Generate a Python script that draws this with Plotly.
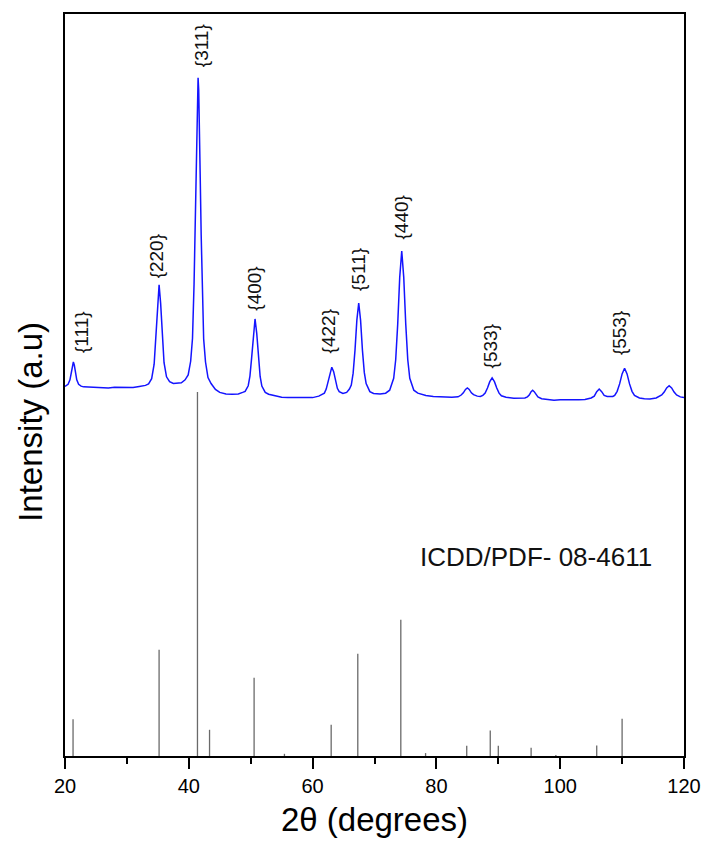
import plotly.graph_objects as go

# Measured XRD pattern (2-theta in degrees, intensity in a.u.)
two_theta = [
    20.0, 20.5, 20.8, 21.0, 21.2, 21.35, 21.5, 21.7, 21.9, 22.2,
    22.6, 23.0, 24.0, 25.0, 26.0, 27.0, 28.0, 29.0, 30.0, 31.0,
    32.0, 33.0, 33.5, 34.0, 34.4, 34.7, 34.95, 35.2, 35.45, 35.7,
    36.0, 36.4, 36.9, 37.5, 38.2, 38.8, 39.4, 39.9, 40.3, 40.6,
    40.85, 41.0, 41.15, 41.3, 41.4, 41.5, 41.6, 41.7, 41.85, 42.0,
    42.15, 42.4, 42.7, 43.1, 43.6, 44.3, 45.0, 46.0, 47.0, 48.0,
    48.7, 49.1, 49.6, 49.875, 50.15, 50.425, 50.7, 50.975, 51.25, 51.525,
    51.8, 52.35, 52.9, 54.0, 55.0, 56.0, 57.0, 58.0, 59.0, 60.0,
    61.0, 61.9, 62.2, 62.5, 62.8, 63.1, 63.4, 63.7, 64.0, 64.3,
    64.9, 65.5, 65.95, 66.25, 66.55, 66.85, 67.15, 67.45, 67.75, 68.05,
    68.35, 68.65, 69.25, 69.85, 70.9, 71.8, 72.45, 73.1, 73.425, 73.75,
    74.075, 74.4, 74.725, 75.05, 75.375, 75.7, 76.35, 77.0, 78.3, 79.5,
    80.5, 81.5, 82.5, 83.5, 84.0, 84.35, 84.7, 85.0, 85.3, 85.65,
    86.0, 86.6, 87.1, 87.5, 87.875, 88.25, 88.625, 89.0, 89.375, 89.75,
    90.125, 90.5, 91.25, 92.5, 93.5, 94.3, 94.7, 95.0, 95.3, 95.55,
    95.8, 96.1, 96.4, 97.0, 98.0, 99.0, 100.0, 101.0, 102.0, 103.0,
    104.0, 105.0, 105.5, 105.9, 106.3, 106.7, 107.1, 107.6, 108.5, 108.8,
    109.2, 109.6, 110.0, 110.4, 110.8, 111.2, 111.6, 112.0, 112.8, 113.6,
    114.5, 115.5, 116.4, 116.8, 117.2, 117.6, 118.0, 118.4, 118.8, 119.4,
    120.0,
]
intensity = [
    49.8, 50.1, 50.7, 51.6, 52.7, 53.1, 52.7, 51.6, 50.7, 50.1,
    49.85, 49.75, 49.7, 49.6, 49.65, 49.6, 49.7, 49.65, 49.6, 49.65,
    49.8, 49.95, 50.15, 50.85, 52.8, 56.55, 61.0, 63.5, 61.0, 56.6,
    53.0, 51.1, 50.45, 50.2, 50.2, 50.3, 50.7, 51.35, 53.2, 56.3,
    63.6, 70.2, 77.8, 86.1, 89.8, 91.4, 89.8, 86.1, 77.8, 70.2,
    63.5, 56.2, 53.1, 51.0, 50.2, 49.4, 49.0, 48.8, 48.75, 48.8,
    49.0, 49.15, 49.9, 51.2, 53.65, 56.95, 58.9, 56.95, 53.65, 51.15,
    49.85, 49.0, 48.75, 48.5, 48.35, 48.3, 48.3, 48.25, 48.3, 48.3,
    48.5, 48.9, 49.45, 50.45, 51.75, 52.4, 51.8, 50.5, 49.55, 49.1,
    48.85, 49.0, 49.45, 50.0, 51.6, 54.7, 58.75, 61.05, 58.75, 54.7,
    51.7, 50.2, 49.1, 48.85, 48.8, 48.9, 49.3, 50.9, 53.4, 58.2,
    64.5, 68.05, 64.5, 58.2, 53.4, 50.9, 49.3, 48.9, 48.6, 48.45,
    48.4, 48.35, 48.35, 48.4, 48.65, 48.95, 49.4, 49.6, 49.4, 48.95,
    48.7, 48.5, 48.45, 48.6, 48.9, 49.6, 50.45, 50.95, 50.45, 49.6,
    48.9, 48.55, 48.35, 48.2, 48.2, 48.25, 48.4, 48.65, 49.1, 49.3,
    49.1, 48.65, 48.4, 48.15, 48.0, 47.95, 48.0, 47.95, 48.0, 48.0,
    48.05, 48.25, 48.5, 49.1, 49.45, 49.1, 48.6, 48.45, 48.45, 48.6,
    49.15, 50.15, 51.5, 52.25, 51.5, 50.15, 49.15, 48.6, 48.25, 48.15,
    48.1, 48.25, 48.65, 49.05, 49.6, 49.9, 49.6, 49.05, 48.65, 48.4,
    48.3,
]

# ICDD/PDF 08-4611 reference lines (2-theta, relative intensity %)
ref_two_theta = [21.3, 35.2, 41.4, 43.35, 50.55, 55.45, 63.0, 67.3, 74.25,
                 78.25, 84.9, 88.7, 90.0, 95.3, 99.3, 105.9, 110.0]
ref_rel_int = [10.1, 29.2, 100.0, 7.2, 21.5, 0.6, 8.6, 28.1, 37.4,
               0.8, 2.8, 7.0, 2.8, 2.3, 0.3, 2.9, 10.2]

# Miller index labels: 2-theta position and bottom of the label in a.u.
hkl_labels = ["{111}", "{220}", "{311}", "{400}", "{422}", "{511}", "{440}", "{533}", "{553}"]
hkl_x = [22.7, 34.7, 42.1, 50.6, 62.5, 67.4, 74.4, 88.7, 109.55]
hkl_y = [54.0, 64.1, 92.6, 59.8, 54.0, 62.4, 69.3, 52.0, 53.8]

ref_label = "ICDD/PDF- 08-4611"

FONT = "Liberation Sans, Arial, sans-serif"

# stick segments for the reference pattern
stick_x, stick_y = [], []
for t, h in zip(ref_two_theta, ref_rel_int):
    stick_x += [t, t, None]
    stick_y += [0, h, None]

fig = go.Figure()
fig.add_trace(go.Scatter(
    x=stick_x, y=stick_y, mode="lines", yaxis="y2",
    line=dict(color="#6a6a6a", width=1.3), hoverinfo="skip", showlegend=False,
))
fig.add_trace(go.Scatter(
    x=two_theta, y=intensity, mode="lines",
    line=dict(color="#1414ff", width=1.5), showlegend=False,
))

annotations = []
for lab, x, y in zip(hkl_labels, hkl_x, hkl_y):
    annotations.append(dict(
        x=x, y=y, xref="x", yref="y", text=lab, showarrow=False,
        textangle=-90, xanchor="center", yanchor="bottom",
        font=dict(family=FONT, size=19, color="#111"),
    ))
annotations.append(dict(
    x=96.1, y=26.8, xref="x", yref="y", text=ref_label, showarrow=False,
    xanchor="center", yanchor="middle",
    font=dict(family=FONT, size=26, color="#111"),
))
annotations.append(dict(
    x=-0.057, y=0.45, xref="paper", yref="paper", text="Intensity (a.u)",
    showarrow=False, textangle=-90, xanchor="center", yanchor="middle",
    font=dict(family=FONT, size=33, color="#000"),
))

fig.update_layout(
    width=702, height=843,
    margin=dict(l=65, r=18, t=14, b=87),
    paper_bgcolor="white", plot_bgcolor="white",
    annotations=annotations,
    xaxis=dict(
        range=[20, 120], tickmode="linear", tick0=20, dtick=20,
        ticks="outside", ticklen=11, tickwidth=2, tickcolor="#000",
        minor=dict(ticks="outside", ticklen=6, tickwidth=2, tickcolor="#000", dtick=10),
        showline=True, linecolor="#000", linewidth=2, mirror=True,
        showgrid=False, zeroline=False, automargin=False,
        tickfont=dict(family=FONT, size=20, color="#000"),
        title=dict(text="2θ (degrees)", standoff=12,
                   font=dict(family=FONT, size=33, color="#000")),
    ),
    yaxis=dict(
        range=[0, 100], showticklabels=False, ticks="",
        showline=True, linecolor="#000", linewidth=2, mirror=True,
        showgrid=False, zeroline=False, automargin=False,
    ),
    yaxis2=dict(
        range=[0, 100 * 742 / 364], overlaying="y", visible=False,
        showgrid=False, zeroline=False,
    ),
)

fig.write_html("out.html")
